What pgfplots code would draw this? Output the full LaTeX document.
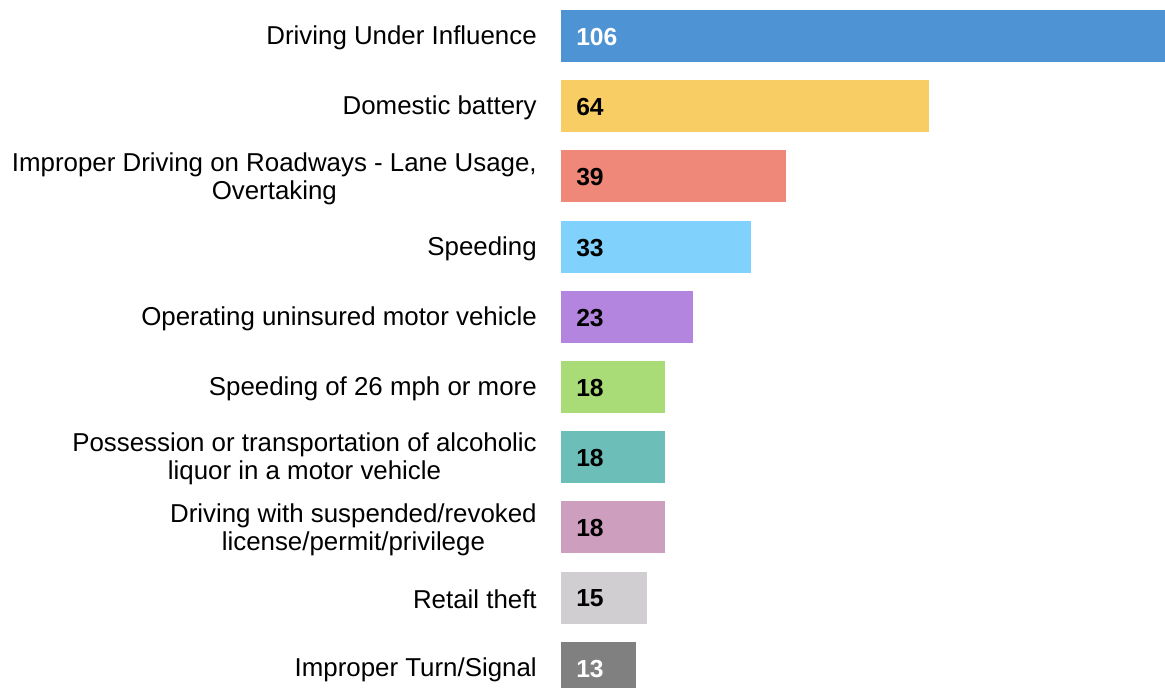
\documentclass[border=0pt]{standalone}
\usepackage{pgfplots}
\pgfplotsset{compat=1.18}
\usepackage{fontspec}
\setmainfont{Liberation Sans}
\definecolor{c1}{RGB}{78,148,212}
\definecolor{c2}{RGB}{247,205,100}
\definecolor{c3}{RGB}{239,136,121}
\definecolor{c4}{RGB}{128,210,252}
\definecolor{c5}{RGB}{179,133,222}
\definecolor{c6}{RGB}{169,220,118}
\definecolor{c7}{RGB}{108,191,185}
\definecolor{c8}{RGB}{206,158,191}
\definecolor{c9}{RGB}{208,206,208}
\definecolor{c10}{RGB}{128,128,128}
\begin{document}
\begin{tikzpicture}
\begin{axis}[
  scale only axis,
  width=453pt, height=516pt,
  xmin=0, xmax=104.9,
  ymin=-0.513, ymax=9.288,
  y dir=reverse,
  axis line style={draw=none},
  major tick length=0pt,
  xtick=\empty,
  ytick={0,1,2,3,4,5,6,7,8,9},
  yticklabels={
    {Driving Under Influence},
    {Domestic battery},
    {Improper Driving on Roadways - Lane Usage,\\Overtaking},
    {Speeding},
    {Operating uninsured motor vehicle},
    {Speeding of 26 mph or more},
    {Possession or transportation of alcoholic\\liquor in a motor vehicle},
    {Driving with suspended/revoked\\license/permit/privilege},
    {Retail theft},
    {Improper Turn/Signal}},
  yticklabel style={font=\fontsize{19.4}{21}\selectfont, align=center, anchor=east, inner sep=0pt, xshift=-18pt, yshift=-1.5pt},
  bar width=0.74,
]
\addplot[xbar, bar shift=0pt, fill=c1, draw=none] coordinates {(106,0)};
\addplot[xbar, bar shift=0pt, fill=c2, draw=none] coordinates {(64,1)};
\addplot[xbar, bar shift=0pt, fill=c3, draw=none] coordinates {(39,2)};
\addplot[xbar, bar shift=0pt, fill=c4, draw=none] coordinates {(33,3)};
\addplot[xbar, bar shift=0pt, fill=c5, draw=none] coordinates {(23,4)};
\addplot[xbar, bar shift=0pt, fill=c6, draw=none] coordinates {(18,5)};
\addplot[xbar, bar shift=0pt, fill=c7, draw=none] coordinates {(18,6)};
\addplot[xbar, bar shift=0pt, fill=c8, draw=none] coordinates {(18,7)};
\addplot[xbar, bar shift=0pt, fill=c9, draw=none] coordinates {(15,8)};
\addplot[xbar, bar shift=0pt, fill=c10, draw=none] coordinates {(13,9)};
\addplot[draw=none, mark=none, point meta=explicit symbolic,
  nodes near coords, nodes near coords style={anchor=west, inner sep=0pt, xshift=11.25pt, yshift=-0.75pt, text=white, font=\fontsize{18.5}{20}\selectfont\bfseries}]
  coordinates {(0,0)[106] (0,9)[13]};
\addplot[draw=none, mark=none, point meta=explicit symbolic,
  nodes near coords, nodes near coords style={anchor=west, inner sep=0pt, xshift=11.25pt, yshift=-0.75pt, text=black, font=\fontsize{18.5}{20}\selectfont\bfseries}]
  coordinates {(0,1)[64] (0,2)[39] (0,3)[33] (0,4)[23] (0,5)[18] (0,6)[18] (0,7)[18] (0,8)[15]};
\end{axis}
\pgfresetboundingbox
\path (current axis.south east) rectangle ++(-873.75pt,516pt);
\end{tikzpicture}
\end{document}
